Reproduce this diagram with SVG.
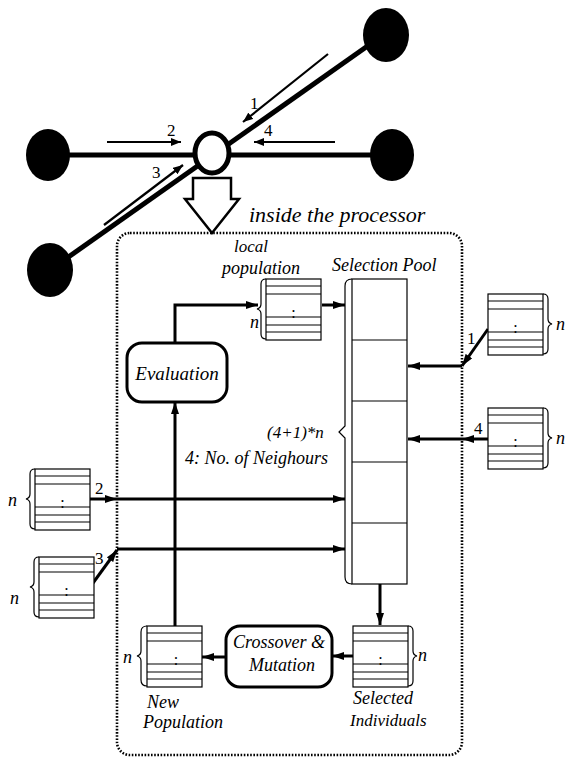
<svg xmlns="http://www.w3.org/2000/svg" width="569" height="763" viewBox="0 0 569 763">
<style>
.lbl{font-family:"Liberation Serif","DejaVu Serif",serif;font-style:italic;fill:#000}
.num{font-family:"Liberation Serif","DejaVu Serif",serif;fill:#000;font-size:17px}
.dots{font-family:"Liberation Serif",serif;fill:#000;font-size:16px;text-anchor:middle}
.thick{stroke:#000;stroke-width:5;fill:none}
.conn{stroke:#000;stroke-width:3;fill:none}
.thin{stroke:#000;stroke-width:2.2;fill:none}
.box{fill:#fff;stroke:#000;stroke-width:3}
.brace{fill:none;stroke:#000;stroke-width:1.2}
.cell{fill:#fff;stroke:#000;stroke-width:1.2}
.row{stroke:#000;stroke-width:1.2}
.node{fill:#000}
</style>
<defs>
<marker id="ah" viewBox="0 0 12 8" markerWidth="12" markerHeight="8" refX="12" refY="4" orient="auto" markerUnits="userSpaceOnUse"><path d="M0,0 L12,4 L0,8 z" fill="#000"/></marker>
<marker id="ahs" viewBox="0 0 10 8" markerWidth="10" markerHeight="8" refX="10" refY="4" orient="auto" markerUnits="userSpaceOnUse"><path d="M0,0 L10,4 L0,8 z" fill="#000"/></marker>
<g id="stack">
<rect class="cell" x="0" y="0" width="55" height="61"/>
<path class="row" d="M0,7 H55 M0,15 H55 M0,38 H55 M0,46 H55 M0,53 H55"/>
</g>
</defs>

<g id="network">
<path class="thick" d="M48,155 H392"/>
<path class="thick" d="M50,270 L386,33"/>
<ellipse class="node" cx="386" cy="35" rx="23" ry="27"/>
<ellipse class="node" cx="48" cy="155" rx="22" ry="26"/>
<ellipse class="node" cx="392" cy="155" rx="22" ry="26"/>
<ellipse class="node" cx="50" cy="270" rx="23" ry="27"/>
<ellipse cx="212" cy="153" rx="17" ry="20" fill="#fff" stroke="#000" stroke-width="5"/>
<path class="thin" d="M107,142 H181" marker-end="url(#ahs)"/>
<path class="thin" d="M335,142 H254" marker-end="url(#ahs)"/>
<path class="thin" d="M328,54 L243,122" marker-end="url(#ahs)"/>
<path class="thin" d="M104,225 L183,165" marker-end="url(#ahs)"/>
<text class="num" x="250" y="109">1</text>
<text class="num" x="167" y="136">2</text>
<text class="num" x="264" y="136">4</text>
<text class="num" x="152" y="178">3</text>
<path d="M193,178 H231 V199 H239 L212,233 L185,199 H193 Z" fill="#fff" stroke="#000" stroke-width="2.5"/>
</g>

<g id="processor">
<rect x="117" y="233" width="345" height="522" rx="13" fill="none" stroke="#000" stroke-width="2.6" stroke-dasharray="1.6 1.6"/>
<text class="lbl" x="249" y="222" font-size="22">inside the processor</text>
</g>

<g id="connectors">
<path class="conn" d="M175,343 V305 H258" marker-end="url(#ah)"/>
<path class="conn" d="M322,305 H345" marker-end="url(#ah)"/>
<path class="conn" d="M175,626 V402" stroke-width="2.5" marker-end="url(#ah)"/>
<path class="conn" d="M90,499 H117" marker-end="url(#ah)"/>
<path class="conn" d="M117,499 H345" marker-end="url(#ah)"/>
<path class="conn" d="M93,583 L117,550" marker-end="url(#ah)"/>
<path class="conn" d="M117,549 H345" marker-end="url(#ah)"/>
<path class="conn" d="M488,329 L462,366" marker-end="url(#ah)"/>
<path class="conn" d="M462,366 H408" marker-end="url(#ah)"/>
<path class="conn" d="M488,439 H462" marker-end="url(#ah)"/>
<path class="conn" d="M462,439 H408" marker-end="url(#ah)"/>
<path class="conn" d="M380,584 V625" marker-end="url(#ah)"/>
<path class="conn" d="M353,656 H332" marker-end="url(#ah)"/>
<path class="conn" d="M226,657 H202" marker-end="url(#ah)"/>
<text class="num" x="467" y="344">1</text>
<text class="num" x="474" y="434">4</text>
<text class="num" x="95" y="494">2</text>
<text class="num" x="95" y="564">3</text>
</g>

<g id="local-population">
<use href="#stack" x="266" y="279"/>
<text class="dots" x="293.5" y="318">:</text>
<path class="brace" d="M266,279 q-5,0 -5,5 v20 q0,4 -4,5 q4,1 4,5 v20 q0,5 5,5"/>
<text class="lbl" x="250" y="328" font-size="18">n</text>
<text class="lbl" x="234" y="252" font-size="17">local</text>
<text class="lbl" x="222" y="274" font-size="18">population</text>
</g>

<g id="selection-pool">
<rect class="cell" x="352" y="279" width="55" height="305"/>
<path class="row" d="M352,340 H407 M352,401 H407 M352,462 H407 M352,523 H407"/>
<path class="brace" d="M352,279 q-7,0 -7,7 v140 l-6,6 l6,6 v139 q0,7 7,7"/>
<text class="lbl" x="332" y="271" font-size="18">Selection Pool</text>
<text class="lbl" x="267" y="438" font-size="17">(4+1)*n</text>
<text class="lbl" x="185" y="464" font-size="18">4: No. of Neighours</text>
</g>

<g id="evaluation">
<rect class="box" x="127" y="343" width="100" height="59" rx="15"/>
<text class="lbl" x="177" y="380" font-size="19" text-anchor="middle">Evaluation</text>
</g>

<g id="neighbour-1">
<use href="#stack" x="488" y="294"/>
<text class="dots" x="515.5" y="333">:</text>
<path class="brace" d="M543,294 q5,0 5,5 v20 q0,4 4,5 q-4,1 -4,5 v20 q0,5 -5,5"/>
<text class="lbl" x="556" y="330" font-size="18">n</text>
</g>

<g id="neighbour-4">
<use href="#stack" x="488" y="408"/>
<text class="dots" x="515.5" y="447">:</text>
<path class="brace" d="M543,408 q5,0 5,5 v20 q0,4 4,5 q-4,1 -4,5 v20 q0,5 -5,5"/>
<text class="lbl" x="556" y="444" font-size="18">n</text>
</g>

<g id="neighbour-2">
<use href="#stack" x="35" y="469"/>
<text class="dots" x="62.5" y="508">:</text>
<path class="brace" d="M35,469 q-5,0 -5,5 v20 q0,4 -4,5 q4,1 4,5 v20 q0,5 5,5"/>
<text class="lbl" x="8" y="506" font-size="18">n</text>
</g>

<g id="neighbour-3">
<use href="#stack" x="39" y="557"/>
<text class="dots" x="66.5" y="596">:</text>
<path class="brace" d="M39,557 q-5,0 -5,5 v20 q0,4 -4,5 q4,1 4,5 v20 q0,5 5,5"/>
<text class="lbl" x="10" y="604" font-size="18">n</text>
</g>

<g id="selected-individuals">
<use href="#stack" x="353" y="626"/>
<text class="dots" x="380.5" y="665">:</text>
<path class="brace" d="M408,626 q5,0 5,5 v20 q0,4 4,5 q-4,1 -4,5 v20 q0,5 -5,5"/>
<text class="lbl" x="418" y="661" font-size="18">n</text>
<text class="lbl" x="353" y="704" font-size="18">Selected</text>
<text class="lbl" x="350" y="726" font-size="17">Individuals</text>
</g>

<g id="crossover-mutation">
<rect class="box" x="226" y="626" width="106" height="61" rx="14"/>
<text class="lbl" x="279" y="648" font-size="18" text-anchor="middle">Crossover &amp;</text>
<text class="lbl" x="282" y="671" font-size="18" text-anchor="middle">Mutation</text>
</g>

<g id="new-population">
<use href="#stack" x="147" y="626"/>
<text class="dots" x="176" y="665">:</text>
<path class="brace" d="M147,626 q-6,0 -6,6 v19 q0,4 -4,5 q4,1 4,5 v19 q0,6 6,6"/>
<text class="lbl" x="123" y="663" font-size="18">n</text>
<text class="lbl" x="147" y="708" font-size="18">New</text>
<text class="lbl" x="143" y="728" font-size="18">Population</text>
</g>
</svg>
